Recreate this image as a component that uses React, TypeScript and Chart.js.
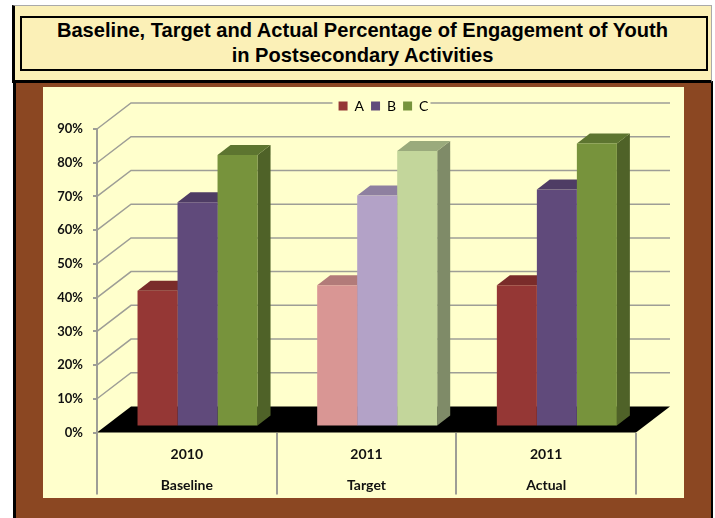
import React, { useEffect, useRef } from "react";
import { Chart, registerables } from "chart.js";

Chart.register(...registerables);

const titleLines = ["Baseline, Target and Actual Percentage of Engagement of Youth", "in Postsecondary Activities"];
const categories = [["2010", "Baseline"], ["2011", "Target"], ["2011", "Actual"]];
const seriesA = [40, 41.6, 41.6];
const seriesB = [66.2, 68.2, 70];
const seriesC = [80.2, 81.4, 83.6];
const seriesNames = ["A", "B", "C"];

const frontA = ["#953735", "#D99694", "#953735"];
const frontB = ["#604A7B", "#B3A2C7", "#604A7B"];
const frontC = ["#77933C", "#C3D69B", "#77933C"];
const topA = ["#7A2C2A", "#B27B79", "#7A2C2A"];
const topB = ["#4E3C64", "#8E80A0", "#4E3C64"];
const topC = ["#5D7530", "#9AAA7C", "#5D7530"];
const sideA = ["#632423", "#8C6463", "#632423"];
const sideB = ["#3F3151", "#766A84", "#3F3151"];
const sideC = ["#4F6228", "#7F8B68", "#4F6228"];

const DEPTH_X = 34, DEPTH_Y = 26, BAR_DX = 13, BAR_DY = 10, SHIFT = 10.7;
const FONT = "Lato, Carlito, sans-serif";
const AXIS = "#9E9E96";

const threeD = {
  id: "threeD",
  afterLayout(chart: any) {
    const lg = chart.legend;
    if (lg) {
      lg.top -= 6; lg.bottom -= 6;
      lg.left += 44; lg.right += 44;
    }
  },
  beforeDraw(chart: any) {
    const { ctx, scales } = chart;
    const y = scales.y, x = scales.x;
    const right = x.right, left = x.left;
    ctx.save();
    const y0 = y.getPixelForValue(0);
    ctx.fillStyle = "#000";
    ctx.beginPath();
    ctx.moveTo(left, y0);
    ctx.lineTo(left + DEPTH_X, y0 - DEPTH_Y);
    ctx.lineTo(right + DEPTH_X, y0 - DEPTH_Y);
    ctx.lineTo(right, y0);
    ctx.closePath();
    ctx.fill();
    ctx.strokeStyle = AXIS;
    ctx.lineWidth = 1.5;
    y.ticks.forEach((t: any) => {
      if (t.value === 0) return;
      const py = y.getPixelForValue(t.value);
      ctx.beginPath();
      ctx.moveTo(left, py);
      ctx.lineTo(left + DEPTH_X, py - DEPTH_Y);
      ctx.lineTo(right + DEPTH_X, py - DEPTH_Y);
      ctx.stroke();
    });
    const lg = chart.legend;
    if (lg) {
      const mid = (lg.left + lg.right) / 2;
      ctx.fillStyle = "#FFFFCC";
      ctx.fillRect(mid - 51, lg.top, 98, lg.height);
    }
    ctx.lineWidth = 2;
    ctx.beginPath();
    ctx.moveTo(left, y.top);
    ctx.lineTo(left, y0);
    ctx.stroke();
    ctx.restore();
  },
  beforeDatasetsDraw(chart: any) {
    const { ctx } = chart;
    ctx.save();
    ctx.translate(SHIFT, 0);
    const sides = [sideA, sideB, sideC];
    const tops = [topA, topB, topC];
    chart.data.datasets.forEach((_: any, di: number) => {
      chart.getDatasetMeta(di).data.forEach((bar: any, i: number) => {
        const l = bar.x - bar.width / 2, r = bar.x + bar.width / 2, t = bar.y, b = bar.base;
        ctx.fillStyle = sides[di][i];
        ctx.beginPath();
        ctx.moveTo(r, t); ctx.lineTo(r + BAR_DX, t - BAR_DY); ctx.lineTo(r + BAR_DX, b - BAR_DY); ctx.lineTo(r, b);
        ctx.closePath(); ctx.fill();
        ctx.fillStyle = tops[di][i];
        ctx.beginPath();
        ctx.moveTo(l, t); ctx.lineTo(l + BAR_DX, t - BAR_DY); ctx.lineTo(r + BAR_DX, t - BAR_DY); ctx.lineTo(r, t);
        ctx.closePath(); ctx.fill();
      });
    });
  },
  afterDatasetsDraw(chart: any) {
    chart.ctx.restore();
  },
};

export default function App() {
  const ref = useRef<HTMLCanvasElement>(null);
  useEffect(() => {
    const chart = new Chart(ref.current!, {
      type: "bar",
      data: {
        labels: categories,
        datasets: [
          { label: seriesNames[0], data: seriesA, backgroundColor: frontA, yAxisID: "yBars", clip: false },
          { label: seriesNames[1], data: seriesB, backgroundColor: frontB, yAxisID: "yBars", clip: false },
          { label: seriesNames[2], data: seriesC, backgroundColor: frontC, yAxisID: "yBars", clip: false },
        ] as any,
      },
      options: {
        responsive: false,
        animation: false,
        layout: { padding: { top: 11, right: 48, left: 0, bottom: 0 } },
        datasets: { bar: { categoryPercentage: 0.668, barPercentage: 1 } },
        plugins: {
          tooltip: { enabled: false },
          legend: {
            position: "top",
            align: "center",
            labels: {
              boxWidth: 9, boxHeight: 9, padding: 7,
              font: { family: FONT, size: 14 }, color: "#222",
              generateLabels: () => seriesNames.map((n, i) => ({
                text: n, fillStyle: [frontA, frontB, frontC][i][0], strokeStyle: "transparent", lineWidth: 0, datasetIndex: i,
              })),
            },
          },
        },
        scales: {
          x: {
            grid: { offset: true, drawOnChartArea: false, tickLength: 62, color: AXIS, lineWidth: 2 },
            border: { display: false },
            ticks: { padding: -55, maxRotation: 0, color: "#111", font: { family: FONT, size: 14, weight: "bold", lineHeight: 2.2 } },
            afterFit: (s: any) => { s.height = 65.5; },
          },
          y: {
            min: 0, max: 90,
            grid: { drawOnChartArea: false, tickLength: 4, color: AXIS, lineWidth: 2 },
            border: { display: false },
            ticks: { stepSize: 10, padding: 10, color: "#111", font: { family: FONT, size: 13, weight: "bold" }, callback: (v: any) => v + "%" },
            afterFit: (s: any) => { s.width = 54; },
          },
          yBars: { display: false, min: -2.07, max: 87.93 },
        },
      } as any,
      plugins: [threeD],
    });
    return () => chart.destroy();
  }, []);

  return (
    <div style={{ position: "fixed", left: 0, top: 0, width: 715, height: 518, background: "#fff", overflow: "hidden" }}>
      <div style={{ position: "absolute", left: 13, top: 81, width: 695, height: 437, background: "#8B4722", borderLeft: "3px solid #000", borderRight: "2px solid #000" }} />
      <div style={{ position: "absolute", left: 43, top: 87, width: 641, height: 411, background: "#FFFFCC" }} />
      <canvas ref={ref} width={641} height={411} style={{ position: "absolute", left: 43, top: 87, width: 641, height: 411, display: "block" }} />
      <div style={{ position: "absolute", left: 12, top: 5, width: 696, height: 74, background: "#FBF0B7", borderLeft: "3px solid #000", borderBottom: "3px solid #000", borderTop: "1px solid #AAA", borderRight: "1px solid #AAA" }} />
      <div style={{ position: "absolute", left: 20, top: 16, width: 681, paddingRight: 3, height: 51, background: "#FBF0B7", border: "2px solid #000", textAlign: "center", fontFamily: "'Liberation Sans', Arial, sans-serif", fontWeight: "bold", fontSize: 20.1, lineHeight: "25px", color: "#000" }}>
        {titleLines.map((l) => <div key={l} style={{ whiteSpace: "nowrap" }}>{l}</div>)}
      </div>
    </div>
  );
}
